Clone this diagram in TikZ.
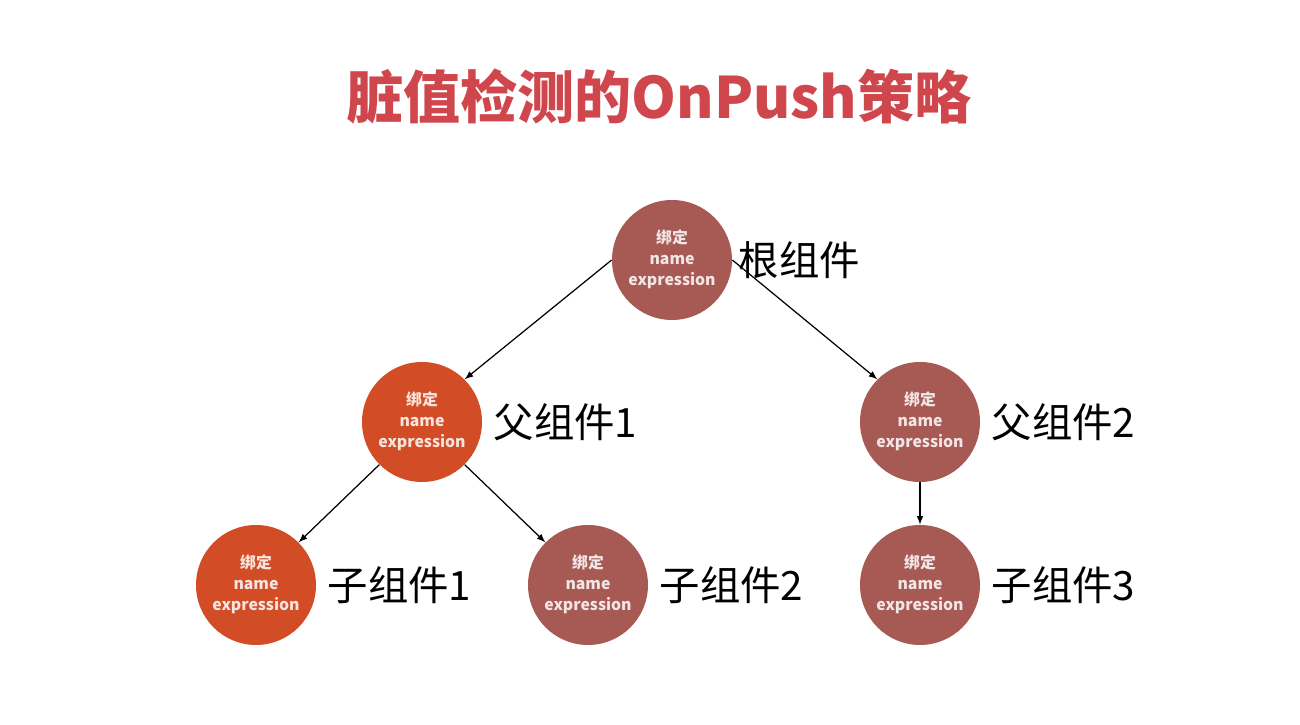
\documentclass[tikz,border=0pt]{standalone}
\usepackage{fontspec}
\newfontfamily\cjk{Noto Sans CJK SC}
\usetikzlibrary{positioning,arrows}
\definecolor{hot}{RGB}{210,76,38}
\definecolor{calm}{RGB}{167,89,84}
\definecolor{titlered}{RGB}{207,70,76}
\tikzset{
	comp/.style={circle, minimum size=2.4cm, inner sep=0pt, align=center, text=white, text opacity=0.85, text depth=0.1cm, font=\cjk\bfseries\fontsize{9}{12}\selectfont},
	hotcomp/.style={comp, fill=hot},
	calmcomp/.style={comp, fill=calm},
	tag/.style={inner sep=0pt, font=\cjk\fontsize{23}{26}\selectfont}
}
\newcommand{\bindtext}{绑定\\name\\expression}

\begin{document}
\begin{tikzpicture}[>=latex]
					\useasboundingbox (0,0) rectangle (26,14.5);
					\node[text=titlered, font=\cjk\bfseries\fontsize{32.5}{36}\selectfont] (title) at (13.18,12.56) {脏值检测的OnPush策略};
					\node[calmcomp] (root) at (13.44,9.3) {\bindtext};
					\node[hotcomp] (p1) at (8.44,6.06) {\bindtext};
					\node[calmcomp] (p2) at (18.4,6.06) {\bindtext};
					\node[hotcomp] (c1) at (5.12,2.8) {\bindtext};
					\node[calmcomp] (c2) at (11.76,2.8) {\bindtext};
					\node[calmcomp] (c3) at (18.4,2.8) {\bindtext};
					\node[tag, right=0.12cm of root] (roottag) {根组件};
					\node[tag, right=0.22cm of p1] (p1tag) {父组件1};
					\node[tag, right=0.22cm of p2] (p2tag) {父组件2};
					\node[tag, right=0.22cm of c1] (c1tag) {子组件1};
					\node[tag, right=0.22cm of c2] (c2tag) {子组件2};
					\node[tag, right=0.22cm of c3] (c3tag) {子组件3};
					\draw[->, line width=0.7pt] (root.west) -- (p1.north east);
					\draw[->, line width=0.7pt] (root.east) -- (p2.north west);
					\draw[->, line width=0.7pt] (p1.south west) -- (c1.north east);
					\draw[->, line width=0.7pt] (p1.south east) -- (c2.north west);
					\draw[->, line width=0.7pt] (p2.south) -- (c3.north);
					\end{tikzpicture}
\end{document}
